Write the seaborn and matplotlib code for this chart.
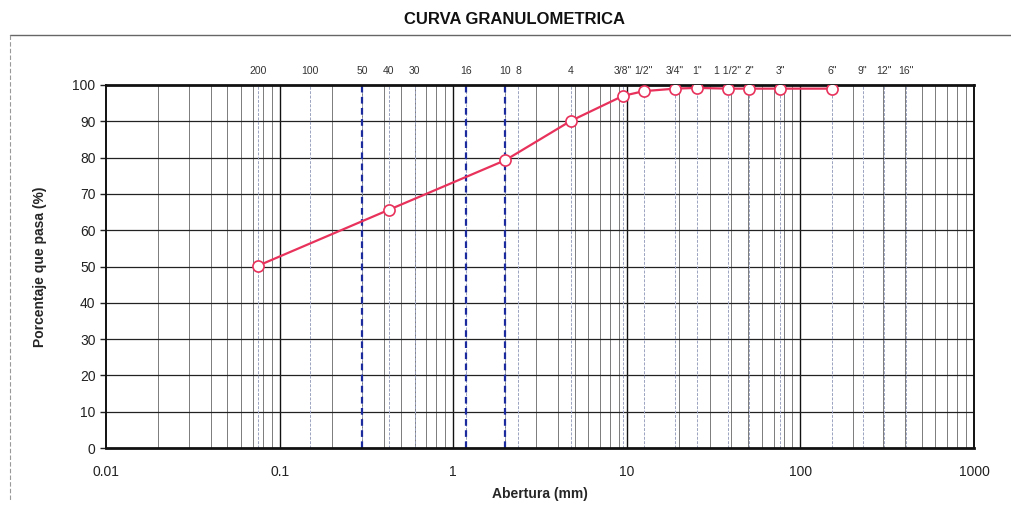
import matplotlib
matplotlib.use("Agg")
import matplotlib.pyplot as plt
from matplotlib.lines import Line2D
from matplotlib.ticker import FixedLocator, NullFormatter
import numpy as np
import pandas as pd
import seaborn as sns

# Sieve analysis results: opening (mm) and percent passing
abertura_mm = [0.075, 0.425, 2.0, 4.75, 9.5, 12.5, 19.0, 25.4, 38.1, 50.8, 76.2, 152.4]
pasa_pct = [50.2, 65.6, 79.3, 90.1, 97.0, 98.3, 99.0, 99.2, 99.0, 99.0, 99.0, 99.0]

# Standard sieve designations shown along the top of the chart
tamiz_nombres = ["200", "100", "50", "40", "30", "16", "10", "8", "4",
                 "3/8\"", "1/2\"", "3/4\"", "1\"", "1 1/2\"", "2\"", "3\"",
                 "6\"", "9\"", "12\"", "16\""]
tamiz_mm = [0.075, 0.15, 0.3, 0.425, 0.6, 1.18, 2.0, 2.36, 4.75,
            9.5, 12.5, 19.0, 25.4, 38.1, 50.8, 76.2,
            152.4, 228.6, 304.8, 406.4]

# Sieves highlighted with dashed blue lines
tamices_marcados = [0.3, 1.18, 2.0]

x_ticks = [0.01, 0.1, 1, 10, 100, 1000]
x_tick_labels = ["0.01", "0.1", "1", "10", "100", "1000"]
y_ticks = list(range(0, 101, 10))

sns.set_theme(style="white")
plt.rcParams["font.family"] = ["Liberation Sans Narrow", "Liberation Sans", "DejaVu Sans"]

fig = plt.figure(figsize=(10.12, 5.08), dpi=100)
ax = fig.add_axes([106 / 1012, 1 - 448 / 508, (974 - 106) / 1012, (448 - 85) / 508])

ax.set_xscale("log")
ax.set_xlim(0.01, 1000)
ax.set_ylim(0, 100)

# Log-paper grid: decades and minor subdivisions
minor = [m * 10.0 ** e for e in range(-2, 3) for m in range(2, 10)]
for v in minor:
    ax.axvline(v, color="#666666", lw=0.6, zorder=1)
for v in x_ticks[1:-1]:
    ax.axvline(v, color="#111111", lw=1.0, zorder=1)
for v in y_ticks[1:-1]:
    ax.axhline(v, color="#222222", lw=0.9, zorder=1)

# Faint lines at each sieve opening
for v in tamiz_mm:
    ax.axvline(v, color="#9aa3c0", lw=0.7, ls=(0, (3, 1.5)), zorder=1)

for v in tamices_marcados:
    ax.axvline(v, color="#1b2a9c", lw=1.6, ls=(0, (3, 2)), zorder=2)

df = pd.DataFrame({"abertura": abertura_mm, "pasa": pasa_pct})
sns.lineplot(data=df, x="abertura", y="pasa", ax=ax, color="#e8325c", lw=1.6,
             marker="o", markersize=8, markerfacecolor="white",
             markeredgecolor="#e8325c", markeredgewidth=1.2, zorder=5)

ax.xaxis.set_major_locator(FixedLocator(x_ticks))
ax.set_xticklabels(x_tick_labels)
ax.xaxis.set_minor_formatter(NullFormatter())
ax.set_yticks(y_ticks)
ax.tick_params(axis="x", which="both", length=0, labelsize=10, colors="#222222", pad=12)
ax.tick_params(axis="y", which="major", length=4, width=1, direction="out",
               labelsize=10, colors="#222222", left=True)

for s in ax.spines.values():
    s.set_color("#111111")
    s.set_linewidth(1.4)
ax.spines["bottom"].set_linewidth(2.0)
ax.spines["top"].set_linewidth(2.0)

ax.set_xlabel("Abertura (mm)", fontsize=10, fontweight="bold", labelpad=6)
ax.set_ylabel("Porcentaje que pasa (%)", fontsize=10, fontweight="bold", labelpad=18)

# Sieve designations above the plot
for name, v in zip(tamiz_nombres, tamiz_mm):
    ax.text(v, 102.5, name, ha="center", va="bottom", fontsize=7.5, color="#333333",
            clip_on=False)

fig.text(515 / 1012, 1 - 20 / 508, "CURVA GRANULOMETRICA", ha="center", va="center",
         fontsize=12, fontweight="bold", color="#111111")

# Sheet border lines
fig.add_artist(Line2D([10 / 1012, 1.0], [1 - 35 / 508, 1 - 35 / 508],
                      color="#666666", lw=1.0, transform=fig.transFigure))
fig.add_artist(Line2D([10 / 1012, 10 / 1012], [1 - 35 / 508, 1 - 500 / 508],
                      color="#999999", lw=0.8, ls=(0, (4, 2)), transform=fig.transFigure))

fig.savefig("out.png", dpi=100, facecolor="white")
